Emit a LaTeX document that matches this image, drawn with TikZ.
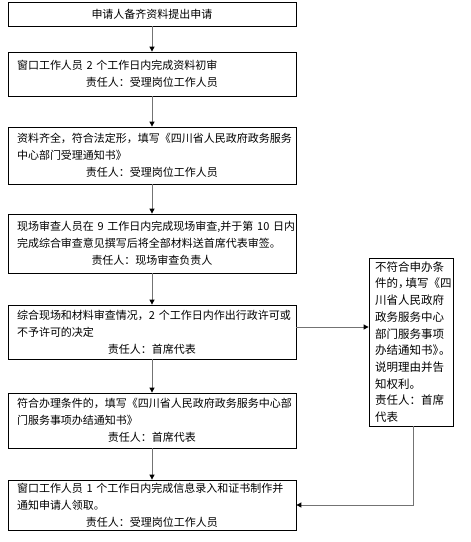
\documentclass[tikz,border=0pt]{standalone}
\usepackage{fontspec}
\setmainfont{Noto Sans CJK SC}
\usetikzlibrary{arrows.meta}
\newcommand\respline[1]{\makebox[\hsize][c]{#1}}
\newcommand\lftln[1]{\makebox[\hsize][l]{#1}}
\begin{document}
\begin{tikzpicture}[x=1pt,y=-1pt,
  box/.style={draw, line width=0.8pt, inner xsep=9pt, inner ysep=2pt, text width=270pt, align=left, font=\fontsize{11}{17}\selectfont},
  sidebox/.style={draw, line width=0.8pt, inner xsep=6pt, inner ysep=2pt, text width=72pt, align=left, font=\fontsize{11.5}{16.7}\selectfont},
  conn/.style={draw=black!55, line width=0.9pt, -{Triangle[length=5pt,width=5pt,color=black]}}]
\useasboundingbox (0,0) rectangle (471,542);
\node[box, align=center, minimum height=24pt] (b1) at (152,14) {申请人备齐资料提出申请};
\node[box, minimum height=44pt] (b2) at (152,74) {\lftln{窗口工作人员 2 个工作日内完成资料初审}\\ \respline{责任人：受理岗位工作人员}};
\node[box, minimum height=57pt] (b3) at (152,155.5) {\lftln{资料齐全，符合法定形，填写《四川省人民政府政务服务}\\ \lftln{中心部门受理通知书》}\\ \respline{责任人：受理岗位工作人员}};
\node[box, minimum height=59pt] (b4) at (152,243.5) {\lftln{现场审查人员在 9 工作日内完成现场审查,并于第 10 日内}\\ \lftln{完成综合审查意见撰写后将全部材料送首席代表审签。}\\ \respline{责任人：现场审查负责人}};
\node[box, minimum height=54pt] (b5) at (152,332) {\lftln{综合现场和材料审查情况，2 个工作日内作出行政许可或}\\ \lftln{不予许可的决定}\\ \respline{责任人：首席代表}};
\node[box, minimum height=55pt] (b6) at (152,420.5) {\lftln{符合办理条件的，填写《四川省人民政府政务服务中心部}\\ \lftln{门服务事项办结通知书》}\\ \respline{责任人：首席代表}};
\node[box, minimum height=50pt] (b7) at (152,505) {\lftln{窗口工作人员 1 个工作日内完成信息录入和证书制作并}\\ \lftln{通知申请人领取。}\\ \respline{责任人：受理岗位工作人员}};
\node[sidebox, minimum height=168pt] (side) at (411,342) {\lftln{不符合申办条}\\ \lftln{件的，\kern-4pt填写《四}\\ \lftln{川省人民政府}\\ \lftln{政务服务中心}\\ \lftln{部门服务事项}\\ \lftln{办结通知书》\kern-5pt。}\\ \lftln{说明理由并告}\\ \lftln{知权利。}\\ \lftln{责任人：首席}\\ \lftln{代表}};
\draw[conn] (b1.south) -- (b2.north);
\draw[conn] (b2.south) -- (b3.north);
\draw[conn] (b3.south) -- (b4.north);
\draw[conn] (b4.south) -- (b5.north);
\draw[conn] (b5.south) -- (b6.north);
\draw[conn] (b6.south) -- (b7.north);
\coordinate (p5) at ([yshift=5pt]b5.east);
\draw[conn] (p5) -- (p5 -| side.west);
\coordinate (s0) at ([xshift=2pt]side.south);
\draw[conn] (s0) |- (b7.east);
\end{tikzpicture}
\end{document}
